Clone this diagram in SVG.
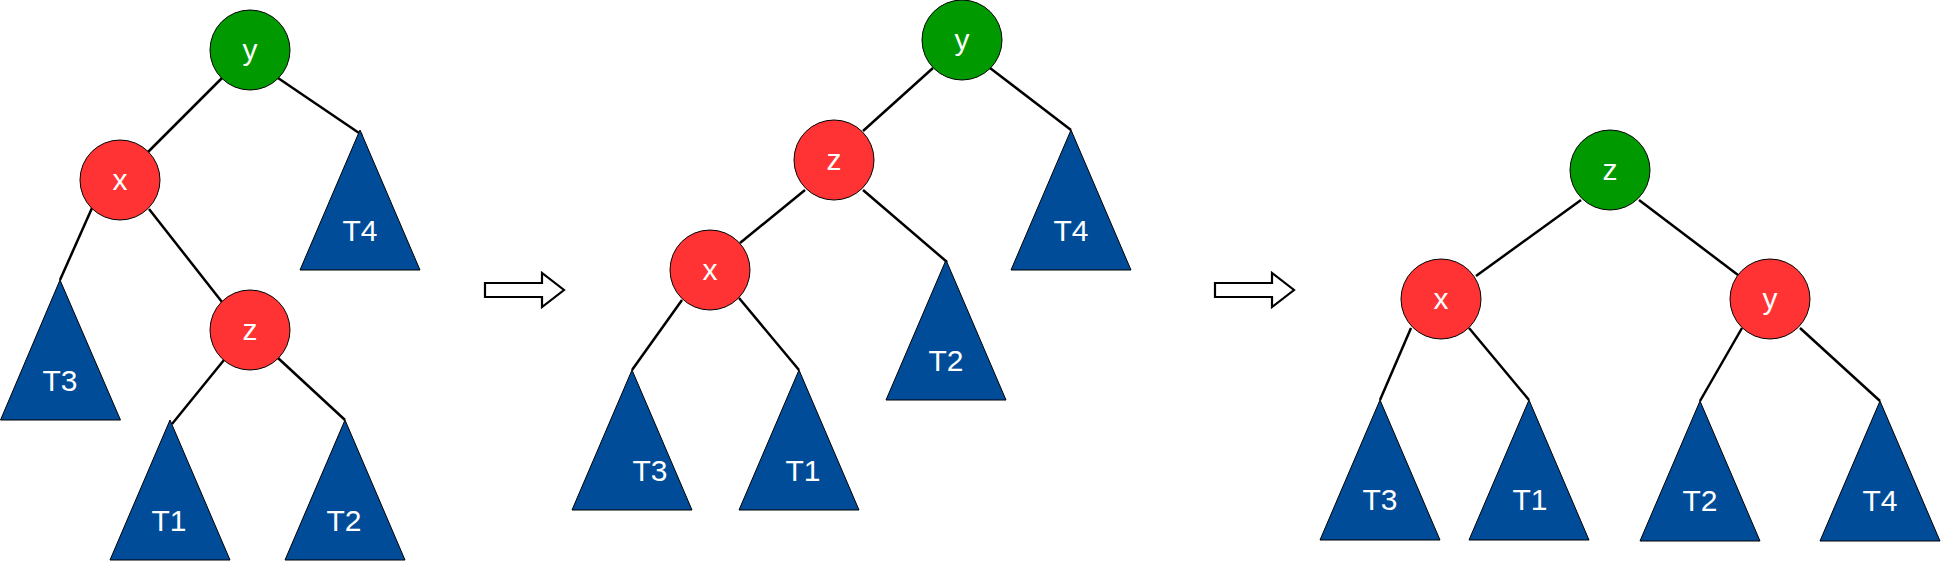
<svg xmlns="http://www.w3.org/2000/svg" width="1941" height="561" viewBox="0 0 1941 561">
<style>
.edge{stroke:#000;stroke-width:2.5;fill:none;stroke-linecap:butt}
.green{fill:#009900;stroke:#000;stroke-width:1}
.red{fill:#FF3333;stroke:#000;stroke-width:1}
.tri{fill:#004C99;stroke:#000;stroke-width:1}
.lbl{font-family:"Liberation Sans",Arial,Helvetica,sans-serif;font-size:30px;fill:#FFFFFF;text-anchor:middle}
.arrow{fill:#FFFFFF;stroke:#000;stroke-width:2.2;stroke-linejoin:miter}
</style>
<rect width="1941" height="561" fill="#FFFFFF"/>
<g id="connectors">
<line class="edge" x1="222" y1="78" x2="148" y2="152"/>
<line class="edge" x1="278" y1="78" x2="362" y2="135"/>
<line class="edge" x1="92" y1="208" x2="60" y2="280"/>
<line class="edge" x1="149" y1="209" x2="222" y2="302"/>
<line class="edge" x1="224" y1="360" x2="172" y2="424"/>
<line class="edge" x1="278" y1="358" x2="345" y2="420"/>
<line class="edge" x1="933" y1="68" x2="863" y2="131"/>
<line class="edge" x1="990" y1="68" x2="1071" y2="130"/>
<line class="edge" x1="805" y1="190" x2="740" y2="243"/>
<line class="edge" x1="863" y1="190" x2="947" y2="262"/>
<line class="edge" x1="682" y1="300" x2="632" y2="370"/>
<line class="edge" x1="739" y1="298" x2="799" y2="370"/>
<line class="edge" x1="1581" y1="200" x2="1476" y2="276"/>
<line class="edge" x1="1639" y1="200" x2="1738" y2="275"/>
<line class="edge" x1="1411" y1="328" x2="1380" y2="400"/>
<line class="edge" x1="1469" y1="328" x2="1529" y2="400"/>
<line class="edge" x1="1742" y1="328" x2="1700" y2="401"/>
<line class="edge" x1="1800" y1="328" x2="1880" y2="401"/>
</g>
<g id="arrow1"><path class="arrow" d="M485,283 L542,283 L542,273 L564,290 L542,307 L542,297 L485,297 Z"/></g>
<g id="arrow2"><path class="arrow" d="M1215,283 L1272,283 L1272,273 L1294,290 L1272,307 L1272,297 L1215,297 Z"/></g>
<!-- Tree 1 -->
<g id="t1-y"><circle class="green" cx="250" cy="50" r="40"/><text class="lbl" x="250" y="60">y</text></g>
<g id="t1-x"><circle class="red" cx="120" cy="180" r="40"/><text class="lbl" x="120" y="190">x</text></g>
<g id="t1-z"><circle class="red" cx="250" cy="330" r="40"/><text class="lbl" x="250" y="340">z</text></g>
<g id="t1-T4"><polygon class="tri" points="360,130 420,270 300,270"/><text class="lbl" x="360" y="241">T4</text></g>
<g id="t1-T3"><polygon class="tri" points="60,280 120.5,420 0.5,420"/><text class="lbl" x="60" y="391">T3</text></g>
<g id="t1-T1"><polygon class="tri" points="170,420 230,560 110,560"/><text class="lbl" x="169" y="531">T1</text></g>
<g id="t1-T2"><polygon class="tri" points="345,420 405,560 285,560"/><text class="lbl" x="344" y="531">T2</text></g>
<!-- Tree 2 -->
<g id="t2-y"><circle class="green" cx="962" cy="40" r="40"/><text class="lbl" x="962" y="50">y</text></g>
<g id="t2-z"><circle class="red" cx="834" cy="160" r="40"/><text class="lbl" x="834" y="170">z</text></g>
<g id="t2-x"><circle class="red" cx="710" cy="270" r="40"/><text class="lbl" x="710" y="280">x</text></g>
<g id="t2-T4"><polygon class="tri" points="1071,130 1131,270 1011,270"/><text class="lbl" x="1071" y="241">T4</text></g>
<g id="t2-T2"><polygon class="tri" points="946,260 1006,400 886,400"/><text class="lbl" x="946" y="371">T2</text></g>
<g id="t2-T3"><polygon class="tri" points="632,370 692,510 572,510"/><text class="lbl" x="650" y="481">T3</text></g>
<g id="t2-T1"><polygon class="tri" points="799,370 859,510 739,510"/><text class="lbl" x="803" y="481">T1</text></g>
<!-- Tree 3 -->
<g id="t3-z"><circle class="green" cx="1610" cy="170" r="40"/><text class="lbl" x="1610" y="180">z</text></g>
<g id="t3-x"><circle class="red" cx="1441" cy="299" r="40"/><text class="lbl" x="1441" y="309">x</text></g>
<g id="t3-y"><circle class="red" cx="1770" cy="299" r="40"/><text class="lbl" x="1770" y="309">y</text></g>
<g id="t3-T3"><polygon class="tri" points="1380,400 1440,540 1320,540"/><text class="lbl" x="1380" y="510">T3</text></g>
<g id="t3-T1"><polygon class="tri" points="1529,400 1589,540 1469,540"/><text class="lbl" x="1530" y="510">T1</text></g>
<g id="t3-T2"><polygon class="tri" points="1700,401 1760,541 1640,541"/><text class="lbl" x="1700" y="511">T2</text></g>
<g id="t3-T4"><polygon class="tri" points="1880,401 1940,541 1820,541"/><text class="lbl" x="1880" y="511">T4</text></g>
</svg>
